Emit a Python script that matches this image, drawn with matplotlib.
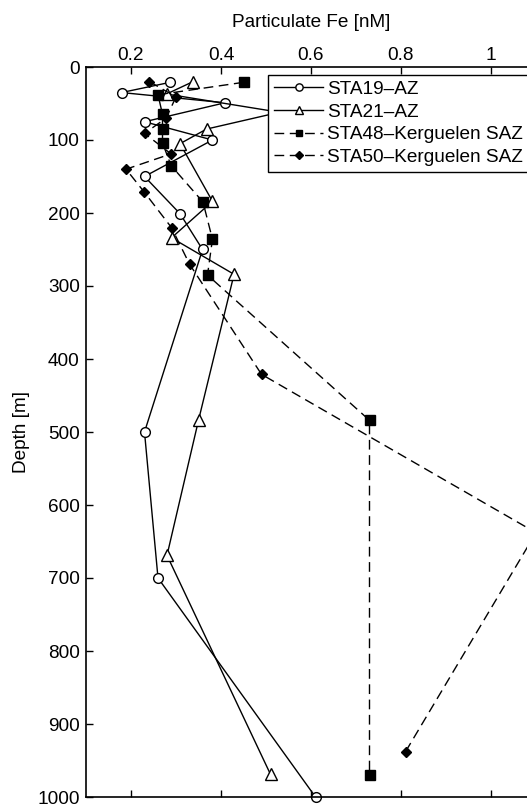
import matplotlib
matplotlib.use("Agg")
import matplotlib.pyplot as plt

plt.rcParams['font.family'] = ['Liberation Sans', 'DejaVu Sans']

# Data (Particulate Fe [nM] vs depth [m])
sta19_depth = [21, 35, 49, 75, 100, 150, 201, 250, 500, 700, 1000]
sta19_fe = [0.287, 0.179, 0.409, 0.230, 0.381, 0.230, 0.309, 0.359, 0.230, 0.260, 0.610]

sta21_depth = [20, 37, 62, 85, 105, 184, 234, 284, 484, 669, 969]
sta21_fe = [0.338, 0.279, 0.530, 0.368, 0.309, 0.381, 0.290, 0.429, 0.350, 0.280, 0.510]

sta48_depth = [21, 38, 65, 85, 104, 135, 185, 236, 285, 484, 970]
sta48_fe = [0.450, 0.260, 0.270, 0.270, 0.270, 0.289, 0.360, 0.381, 0.370, 0.730, 0.730]

sta50_depth = [20, 41, 70, 91, 119, 140, 171, 220, 270, 421, 638, 938]
sta50_fe = [0.241, 0.300, 0.278, 0.230, 0.289, 0.189, 0.229, 0.290, 0.330, 0.490, 1.100, 0.810]

labels = ['STA19\u2013AZ', 'STA21\u2013AZ', 'STA48\u2013Kerguelen SAZ', 'STA50\u2013Kerguelen SAZ']
xticks = [0.2, 0.4, 0.6, 0.8, 1.0]
xticklabels = ['0.2', '0.4', '0.6', '0.8', '1']
yticks = list(range(0, 1001, 100))

W, H = 527, 805
fig = plt.figure(figsize=(W / 100, H / 100), dpi=100)
ax = fig.add_axes([86 / W, 1 - 797 / H, 450 / W, 730 / H])

FS = 13.7
lw = 1.0
dash = (7, 4)
ax.plot(sta19_fe, sta19_depth, '-', color='black', lw=lw, marker='o', ms=7,
        mfc='white', mec='black', mew=1.0, label=labels[0], clip_on=False)
ax.plot(sta21_fe, sta21_depth, '-', color='black', lw=lw, marker='^', ms=8,
        mfc='white', mec='black', mew=1.0, label=labels[1], clip_on=False)
ax.plot(sta48_fe, sta48_depth, '--', dashes=dash, color='black', lw=lw, marker='s', ms=6.5,
        mfc='black', mec='black', label=labels[2], clip_on=False)
ax.plot(sta50_fe, sta50_depth, '--', dashes=dash, color='black', lw=lw, marker='D', ms=5.5,
        mfc='black', mec='black', label=labels[3], clip_on=False)

ax.set_xlim(0.1, 1.1)
ax.set_ylim(1000, 0)
ax.set_xticks(xticks)
ax.set_xticklabels(xticklabels)
ax.set_yticks(yticks)
ax.xaxis.set_ticks_position('both')
ax.xaxis.set_label_position('top')
ax.tick_params(axis='x', direction='in', length=5, width=1, labeltop=True, labelbottom=False,
               labelsize=FS, pad=2.5)
ax.tick_params(axis='y', direction='in', length=5, width=1, left=True, right=True,
               labelsize=FS, pad=4.5)
for s in ax.spines.values():
    s.set_linewidth(1.2)

ax.set_xlabel('Particulate Fe [nM]', fontsize=FS, labelpad=14)
ax.set_ylabel('Depth [m]', fontsize=FS, labelpad=5)

leg = ax.legend(loc='upper left', bbox_to_anchor=(0.405, 0.989), borderaxespad=0,
                fontsize=FS, frameon=True, fancybox=False, framealpha=1,
                edgecolor='black', handlelength=2.6, handletextpad=0.2,
                labelspacing=0.28, borderpad=0.3, markerscale=0.75)
leg.get_frame().set_linewidth(1.0)

fig.savefig('out.png', dpi=100)
